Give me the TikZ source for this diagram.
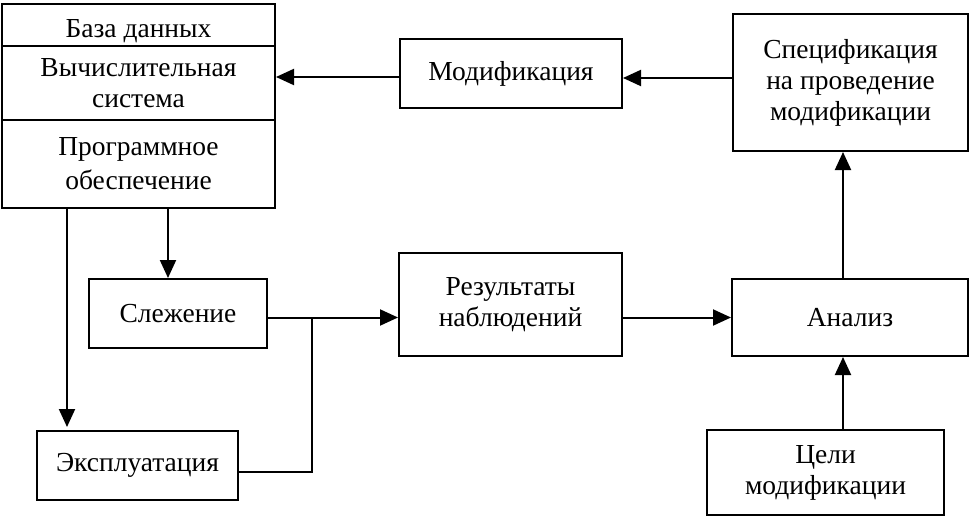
\documentclass[tikz,border=0pt]{standalone}
\usepackage{fontspec}
\setmainfont{Liberation Serif}
\usetikzlibrary{arrows.meta}

\begin{document}
\begin{tikzpicture}[x=1pt,y=-1pt]
\tikzset{bloc/.style={draw, line width=2pt, inner sep=0pt, align=center, font=\fontsize{27.5}{31}\selectfont}}
\tikzset{fleche/.style={line width=2pt, -{Triangle[length=18pt,width=16pt]}}}
\useasboundingbox (0,0) rectangle (969,516);
\node[bloc, minimum width=273pt, minimum height=42pt, text height=26pt, text depth=0pt] (BD) at (138.5,25) {База данных};
\node[bloc, minimum width=273pt, minimum height=74pt] (VS) at (138.5,83) {Вычислительная\\система};
\node[bloc, minimum width=273pt, minimum height=88pt] (PO) at (138.5,164) {Программное\\[3pt]обеспечение};
\node[bloc, minimum width=222pt, minimum height=69pt] (MOD) at (511,73.5) {Модификация};
\node[bloc, minimum width=235pt, minimum height=137pt] (SPEC) at (850.5,82.5) {Спецификация\\на проведение\\модификации};
\node[bloc, minimum width=178pt, minimum height=69pt] (SL) at (178,313.5) {Слежение};
\node[bloc, minimum width=201pt, minimum height=69pt] (EX) at (137.5,465.5) {Эксплуатация};
\node[bloc, minimum width=223pt, minimum height=103pt] (REZ) at (510.5,304.5) {Результаты\\наблюдений};
\node[bloc, minimum width=236pt, minimum height=77pt] (AN) at (850,317.5) {Анализ};
\node[bloc, minimum width=237pt, minimum height=85pt] (CEL) at (825.5,472.5) {Цели\\модификации};
\coordinate (m) at ([yshift=-3.5pt]MOD.west);
\coordinate (s) at ([yshift=4.5pt]SPEC.west);
\coordinate (a) at ([xshift=-10pt]SL.north);
\coordinate (b) at ([xshift=-70.5pt]EX.north);
\coordinate (c) at ([xshift=-7pt]AN.north);
\coordinate (j) at (312,317.5);
\draw[fleche] (m) -- (m -| VS.east);
\draw[fleche] (s) -- (s -| MOD.east);
\draw[fleche] (a |- PO.south) -- (a);
\draw[fleche, shorten >=3pt] (b |- PO.south) -- (b);
\draw[fleche] (SL.east |- AN.west) -- (REZ.west |- AN.west);
\draw[line width=2pt] ([yshift=-6.5pt]EX.east) -| (j);
\draw[fleche] (REZ.east |- AN.west) -- (AN.west);
\draw[fleche] (c) -- (c |- SPEC.south);
\draw[fleche] (c |- CEL.north) -- (c |- AN.south);
\end{tikzpicture}
\end{document}
